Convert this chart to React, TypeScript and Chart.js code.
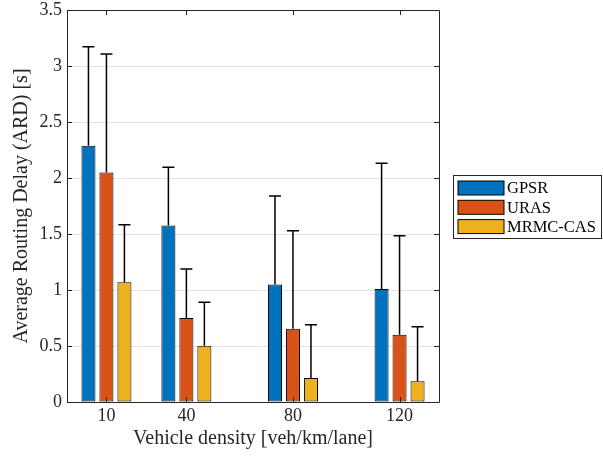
import React, { useEffect, useRef } from "react";
import { Chart, registerables } from "chart.js";

Chart.register(...registerables);

// ---- data ----
const densities = [10, 40, 80, 120];
const seriesNames = ["GPSR", "URAS", "MRMC-CAS"];
const gpsrMean = [2.288, 1.577, 1.048, 1.009];
const urasMean = [2.048, 0.75, 0.655, 0.601];
const mrmcMean = [1.069, 0.503, 0.214, 0.185];
const gpsrErr = [0.884, 0.518, 0.791, 1.122];
const urasErr = [1.059, 0.4375, 0.875, 0.884];
const mrmcErr = [0.514, 0.387, 0.476, 0.487];
const seriesColors = ["#0072BD", "#D95319", "#EDB120"];
const yTickValues = [0, 0.5, 1, 1.5, 2, 2.5, 3, 3.5];

const FONT = "'Liberation Serif', 'Times New Roman', serif";
const AXIS_COLOR = "#262626";

const errorBarPlugin = {
  id: "errorBars",
  afterDatasetsDraw(chart: any) {
    const ctx = chart.ctx;
    const y = chart.scales.y;
    chart.data.datasets.forEach((ds: any, di: number) => {
      const meta = chart.getDatasetMeta(di);
      meta.data.forEach((bar: any, i: number) => {
        const v = ds.data[i].y;
        const e = ds.errors[i];
        const base = y.getPixelForValue(v);
        const top = y.getPixelForValue(v + e);
        ctx.save();
        ctx.strokeStyle = "#000";
        ctx.lineWidth = 1.5;
        ctx.beginPath();
        ctx.moveTo(bar.x, base);
        ctx.lineTo(bar.x, top);
        ctx.moveTo(bar.x - 6, top);
        ctx.lineTo(bar.x + 6, top);
        ctx.stroke();
        ctx.restore();
      });
    });
  },
};

const boxPlugin = {
  id: "matlabBox",
  afterDraw(chart: any) {
    const ctx = chart.ctx;
    const a = chart.chartArea;
    const x = chart.scales.x;
    const y = chart.scales.y;
    const tl = 5;
    ctx.save();
    ctx.strokeStyle = AXIS_COLOR;
    ctx.lineWidth = 1;
    ctx.beginPath();
    ctx.rect(a.left + 0.5, a.top + 0.5, a.right - a.left, a.bottom - a.top);
    densities.forEach((d) => {
      const px = Math.round(x.getPixelForValue(d)) + 0.5;
      ctx.moveTo(px, a.bottom);
      ctx.lineTo(px, a.bottom - tl);
      ctx.moveTo(px, a.top);
      ctx.lineTo(px, a.top + tl);
    });
    yTickValues.forEach((v) => {
      const py = Math.round(y.getPixelForValue(v)) + 0.5;
      ctx.moveTo(a.left, py);
      ctx.lineTo(a.left + tl, py);
      ctx.moveTo(a.right, py);
      ctx.lineTo(a.right - tl, py);
    });
    ctx.stroke();

    // legend
    const boxLeft = a.right + 14.5;
    const boxW = 148;
    const boxH = 63;
    const boxTop = Math.round((a.top + a.bottom) / 2 - boxH / 2) + 0.5;
    ctx.fillStyle = "#fff";
    ctx.fillRect(boxLeft, boxTop, boxW, boxH);
    ctx.strokeStyle = AXIS_COLOR;
    ctx.strokeRect(boxLeft, boxTop, boxW, boxH);
    ctx.font = `16.5px ${FONT}`;
    ctx.textBaseline = "middle";
    ctx.textAlign = "left";
    chart.data.datasets.forEach((ds: any, i: number) => {
      const rl = boxLeft + 4.5;
      const rt = boxTop + 5.5 + i * 19.3;
      ctx.fillStyle = ds.backgroundColor;
      ctx.fillRect(rl, rt, 46, 14);
      ctx.strokeStyle = "#000";
      ctx.strokeRect(rl, rt, 46, 14);
      ctx.fillStyle = "#000";
      ctx.fillText(ds.label, rl + 49, rt + 8);
    });
    ctx.restore();
  },
};

const means = [gpsrMean, urasMean, mrmcMean];
const errs = [gpsrErr, urasErr, mrmcErr];

export default function App() {
  const ref = useRef<HTMLCanvasElement>(null);
  useEffect(() => {
    const chart = new Chart(ref.current as HTMLCanvasElement, {
      type: "bar",
      data: {
        datasets: seriesNames.map((name, s) => ({
          label: name,
          data: densities.map((d, i) => ({ x: d, y: means[s][i] })),
          errors: errs[s],
          backgroundColor: seriesColors[s],
          borderColor: "#000",
          borderWidth: 1,
          borderSkipped: false,
          categoryPercentage: 0.675,
          barPercentage: 0.78,
        })) as any,
      },
      options: {
        animation: false,
        responsive: false,
        devicePixelRatio: 1,
        layout: { padding: { top: 10, right: 164, left: 0, bottom: 0 } },
        plugins: {
          legend: { display: false },
          tooltip: { enabled: false },
        },
        scales: {
          x: {
            type: "linear",
            min: -4.8,
            max: 134.8,
            offset: false,
            afterBuildTicks: (scale: any) => {
              scale.ticks = densities.map((v) => ({ value: v }));
            },
            afterFit: (scale: any) => {
              scale.height = 57;
              scale.paddingLeft = 0;
              scale.paddingRight = 0;
            },
            grid: { display: false, drawTicks: false },
            border: { display: false },
            ticks: {
              autoSkip: false,
              maxRotation: 0,
              padding: 3,
              color: AXIS_COLOR,
              font: { family: FONT, size: 18 },
              callback: (v: any) => String(v),
            },
            title: {
              display: true,
              text: "Vehicle density [veh/km/lane]",
              color: AXIS_COLOR,
              font: { family: FONT, size: 20 },
              padding: { top: 0, bottom: 8 },
            },
          },
          y: {
            min: 0,
            max: 3.5,
            afterBuildTicks: (scale: any) => {
              scale.ticks = yTickValues.map((v) => ({ value: v }));
            },
            afterFit: (scale: any) => {
              scale.width = 67;
              scale.paddingTop = 0;
              scale.paddingBottom = 0;
            },
            grid: { color: "#e3e3e3", lineWidth: 1, drawTicks: false },
            border: { display: false },
            ticks: {
              padding: 5,
              color: AXIS_COLOR,
              font: { family: FONT, size: 18 },
              callback: (v: any) => String(v),
            },
            title: {
              display: true,
              text: "Average Routing Delay (ARD) [s]",
              color: AXIS_COLOR,
              font: { family: FONT, size: 20 },
              padding: { top: 10, bottom: 0 },
            },
          },
        },
      },
      plugins: [errorBarPlugin, boxPlugin],
    } as any);
    return () => chart.destroy();
  }, []);
  return (
    <div style={{ position: "absolute", left: 0, top: 0, width: 603, height: 459, background: "#fff" }}>
      <canvas ref={ref} width={603} height={459} style={{ display: "block", width: 603, height: 459 }} />
    </div>
  );
}
